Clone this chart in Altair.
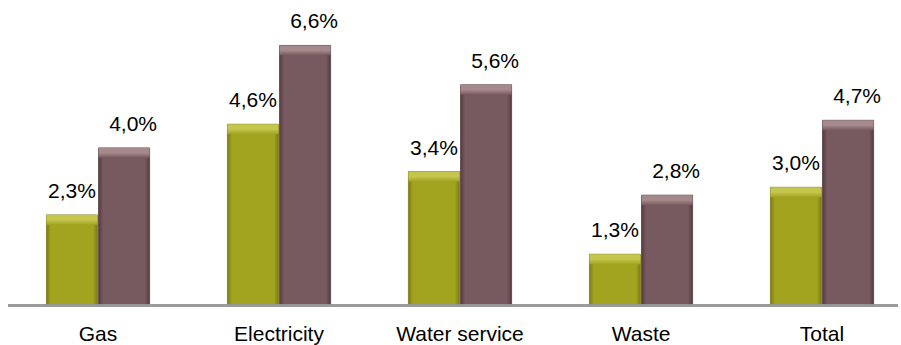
import altair as alt
import pandas as pd

categories = ["Gas", "Electricity", "Water service", "Waste", "Total"]
series_a = [2.3, 4.6, 3.4, 1.3, 3.0]
series_b = [4.0, 6.6, 5.6, 2.8, 4.7]
series_names = ["A", "B"]

rows = []
for c, a, b in zip(categories, series_a, series_b):
    rows.append({"cat": c, "series": "A", "value": a})
    rows.append({"cat": c, "series": "B", "value": b})
df = pd.DataFrame(rows)
df["label"] = df["value"].map(lambda v: f"{v:.1f}".replace(".", ",") + "%")

FONT = "Liberation Sans"
H = 275.8

xenc = alt.X("cat:N", sort=categories, title=None,
             scale=alt.Scale(paddingInner=0.43, paddingOuter=0.1846, align=0.59),
             axis=alt.Axis(labelAngle=0, domain=False, ticks=False, labelFont=FONT,
                           labelFontSize=21, labelColor="#000000", labelPadding=18,
                           grid=False))
xoff = alt.XOffset("series:N", scale=alt.Scale(domain=series_names, paddingInner=0.02))
yenc = alt.Y("value:Q", scale=alt.Scale(domain=[0, 7]), axis=None)

def grad_h(dark, base):
    return {"gradient": "linear", "x1": 0, "x2": 1, "y1": 0, "y2": 0,
            "stops": [{"offset": 0, "color": dark}, {"offset": 0.09, "color": base},
                      {"offset": 0.91, "color": base}, {"offset": 1, "color": dark}]}

def grad_v(light, base):
    return {"gradient": "linear", "x1": 0, "x2": 0, "y1": 0, "y2": 1,
            "stops": [{"offset": 0, "color": light}, {"offset": 0.5, "color": light},
                      {"offset": 1, "color": base}]}

styles = {
    "A": dict(dark="#7a7c12", base="#a2a420", light="#c4c64e"),
    "B": dict(dark="#553b40", base="#775a5f", light="#a5898d"),
}

base = alt.Chart(df)
layers = []
for s in series_names:
    st = styles[s]
    sub = base.transform_filter(alt.datum.series == s)
    layers.append(sub.mark_bar(fill=grad_h(st["dark"], st["base"]), stroke=st["dark"],
                               strokeWidth=0.8).encode(x=xenc, xOffset=xoff, y=yenc))
    layers.append(sub.transform_calculate(top2="datum.value - 0.25").mark_bar(
        fill=grad_v(st["light"], st["base"])).encode(
        x=xenc, xOffset=xoff, y=yenc, y2=alt.Y2("top2:Q")))
    layers.append(sub.mark_text(font=FONT, fontSize=21, color="#000000",
                                baseline="alphabetic", dy=-17,
                                dx=(0 if s == "A" else 9)).encode(
        x=xenc, xOffset=xoff, y=yenc, text="label:N"))

rule = alt.Chart(df).mark_rule(color="#999999", strokeWidth=1.5).encode(
    x=alt.value(1), x2=alt.value(891), y=alt.value(H))

chart = alt.layer(*layers, rule).properties(
    width=894, height=H,
    autosize=alt.AutoSizeParams(type="none"),
    padding={"left": 7, "top": 29.7, "right": 0, "bottom": 39.5},
).configure_view(stroke=None)

chart.save("out.html", embed_options={"renderer": "svg", "actions": False})
